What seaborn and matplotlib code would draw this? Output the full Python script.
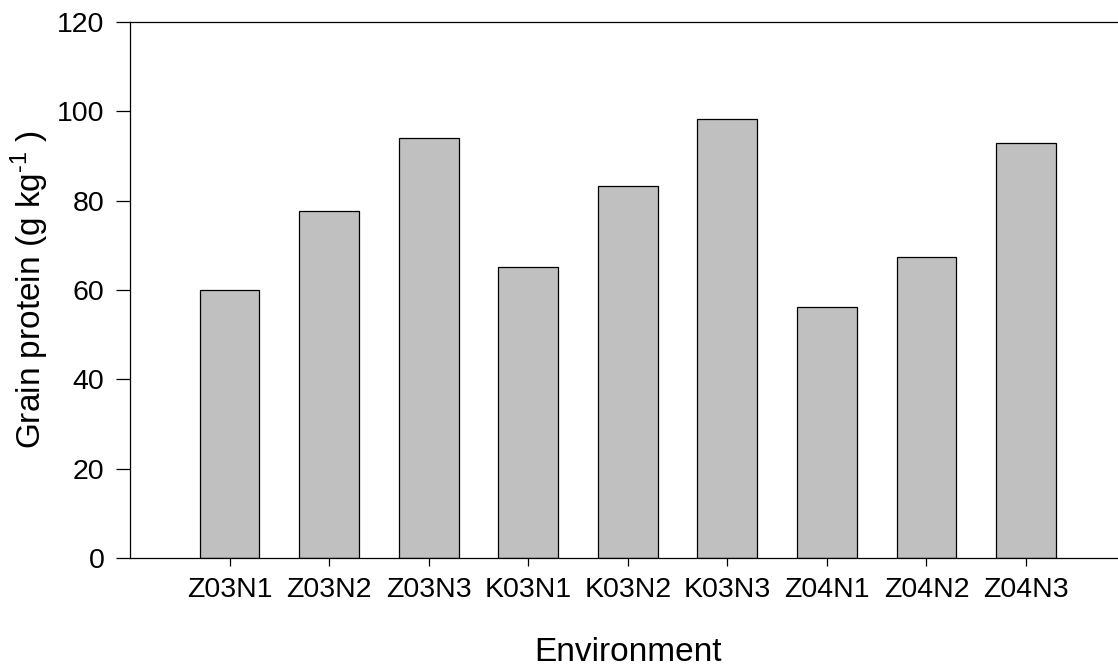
import numpy as np
import pandas as pd
import matplotlib
matplotlib.use('Agg')
import matplotlib.pyplot as plt
import seaborn as sns

# environment / grain protein values
environments = ['Z03N1', 'Z03N2', 'Z03N3', 'K03N1', 'K03N2', 'K03N3', 'Z04N1', 'Z04N2', 'Z04N3']
protein = [60.0, 77.7, 94.0, 65.2, 83.3, 98.2, 56.2, 67.4, 92.9]
y_ticks = [0, 20, 40, 60, 80, 100, 120]

sns.set_theme(style='white')
plt.rcParams['font.family'] = ['Liberation Sans', 'DejaVu Sans']
plt.rcParams['mathtext.fontset'] = 'custom'
plt.rcParams['mathtext.rm'] = 'Liberation Sans'
plt.rcParams['text.color'] = 'black'
plt.rcParams['axes.labelcolor'] = 'black'

df = pd.DataFrame({'Environment': environments, 'protein': protein})

fig = plt.figure(figsize=(11.18, 6.66), dpi=100)
ax = fig.add_axes([130 / 1118, 108 / 666, 995.5 / 1118, 536 / 666])

sns.barplot(data=df, x='Environment', y='protein', color='#c0c0c0',
            edgecolor='black', linewidth=0.9, width=0.6, saturation=1, ax=ax)

ax.set_xlim(-1, 9)
ax.set_ylim(0, 120)
ax.set_yticks(y_ticks)

for side in ['left', 'bottom', 'top']:
    ax.spines[side].set_visible(True)
    ax.spines[side].set_color('black')
    ax.spines[side].set_linewidth(0.9)
ax.spines['right'].set_visible(False)

ax.tick_params(axis='y', which='major', direction='out', length=10, width=0.9,
               color='black', labelcolor='black', labelsize=20.5, pad=8.5, left=True)
ax.tick_params(axis='x', which='major', direction='out', length=6, width=0.9,
               color='black', labelcolor='black', labelsize=20.5, pad=8, bottom=True)

ax.set_xlabel('Environment', fontsize=24, labelpad=24)
ax.set_ylabel(r'Grain protein (g kg$^{\text{-1}}$ )', fontsize=24, labelpad=4)

fig.savefig('out.png', dpi=100)
